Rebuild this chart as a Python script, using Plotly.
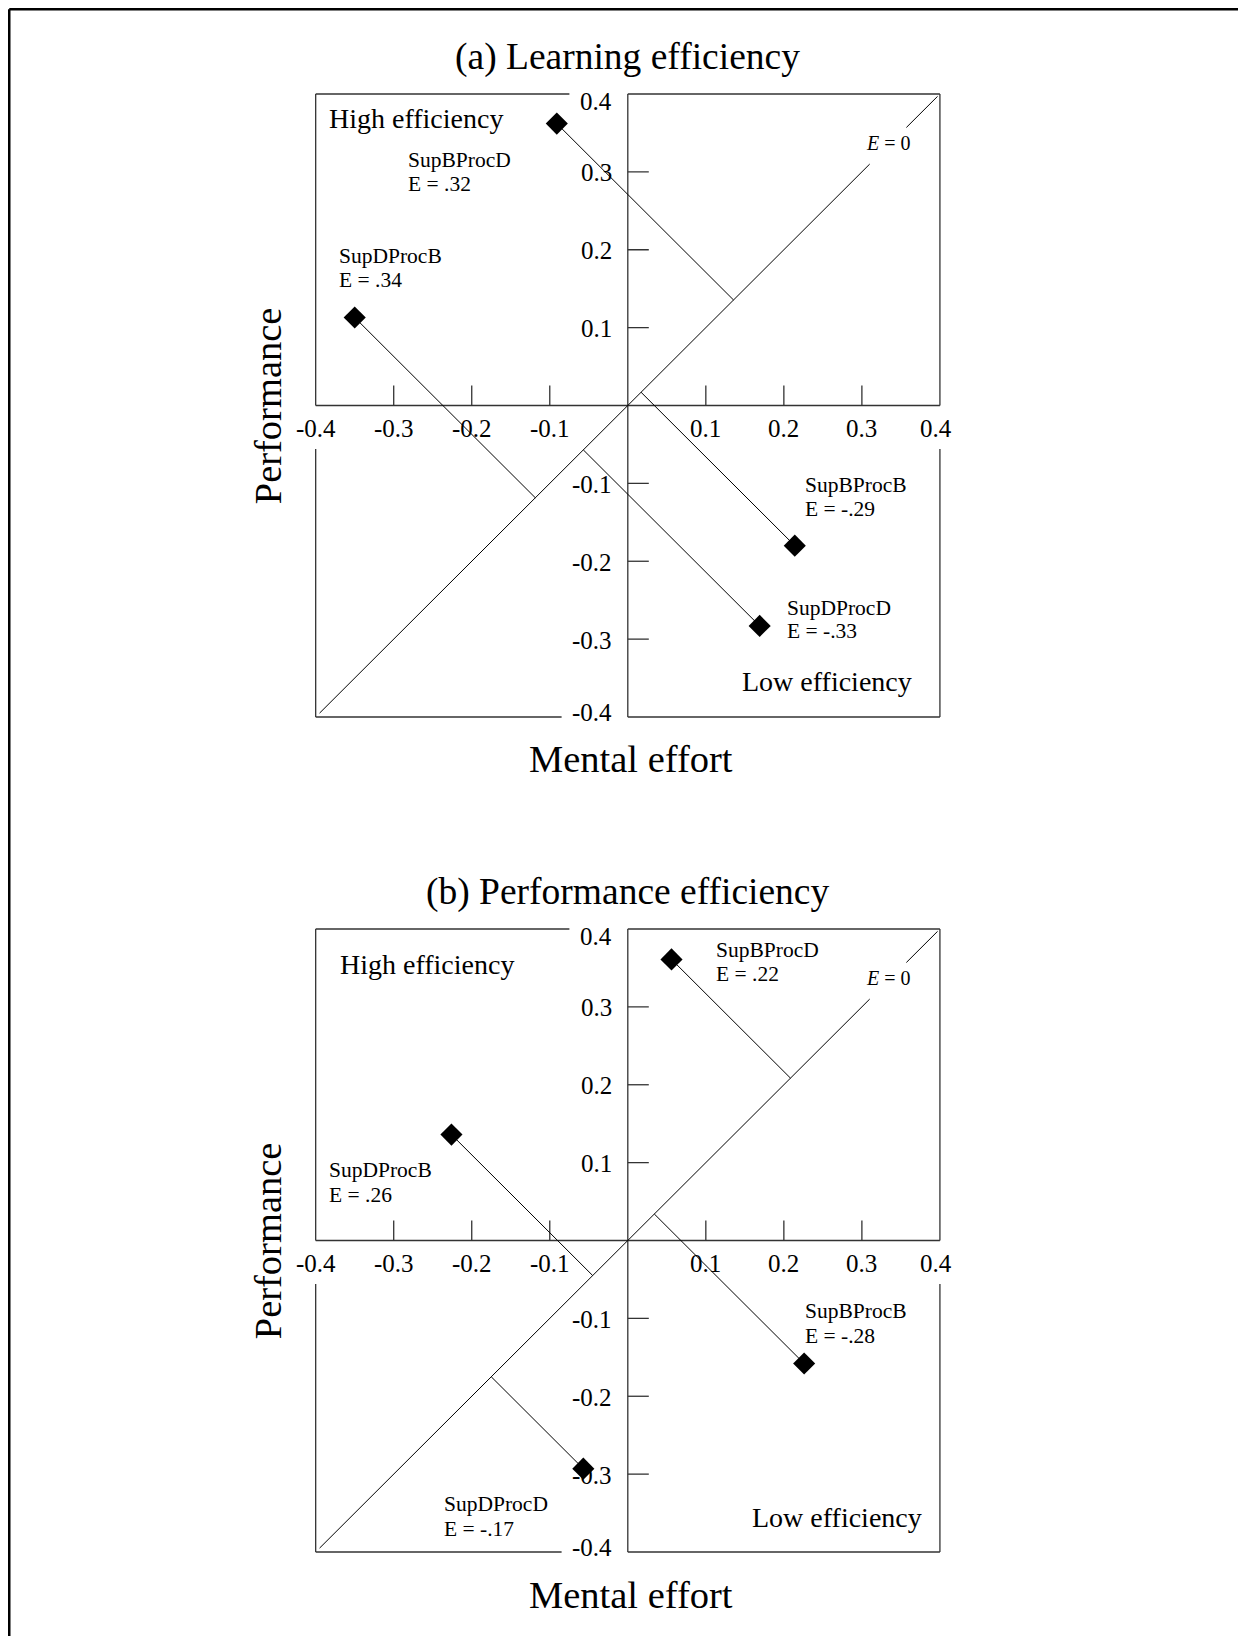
import plotly.graph_objects as go

# ---------------- data ----------------
conditions = ["SupBProcD", "SupDProcB", "SupBProcB", "SupDProcD"]

# (a) Learning efficiency
learn_effort = [-0.091, -0.350, 0.214, 0.169]
learn_perf = [0.362, 0.113, -0.180, -0.283]
learn_E = ["E = .32", "E = .34", "E = -.29", "E = -.33"]

# (b) Performance efficiency
perf_effort = [0.056, -0.226, 0.226, -0.057]
perf_perf = [0.361, 0.136, -0.158, -0.293]
perf_E = ["E = .22", "E = .26", "E = -.28", "E = -.17"]

x_tick_vals = [-0.4, -0.3, -0.2, -0.1, 0.1, 0.2, 0.3, 0.4]
x_tick_text = ["-0.4", "-0.3", "-0.2", "-0.1", "0.1", "0.2", "0.3", "0.4"]
y_tick_vals = [0.4, 0.3, 0.2, 0.1, -0.1, -0.2, -0.3, -0.4]
y_tick_text = ["0.4", "0.3", "0.2", "0.1", "-0.1", "-0.2", "-0.3", "-0.4"]
minor_ticks = [-0.3, -0.2, -0.1, 0.1, 0.2, 0.3]

titles = ["(a) Learning efficiency", "(b) Performance efficiency"]
x_title = "Mental effort"
y_title = "Performance"

# ---------------- layout geometry ----------------
W, H = 1246, 1636
PAGE = 8                                # body margin of the html page
X0, SX, SY = 627.8, 780.3, 778.75       # page pixel of x=0, px per unit
Y0 = [405.5, 1240.5]                    # page pixel of y=0 for each panel
R = 0.5                                 # axis half range
LIM = 0.4

FONT = "Liberation Serif"
LINE = "#333333"


def dxp(px):
    return (px - X0) / SX


def dyp(py, p):
    return (Y0[p] - py) / SY


# label placement (left x, y of name line, y of E line) per panel
label_pos = [
    [(-0.284, 0.315, 0.284), (-0.373, 0.192, 0.161),
     (0.224, -0.102, -0.133), (0.202, -0.260, -0.290)],
    [(0.110, 0.373, 0.342), (-0.385, 0.090, 0.059),
     (0.224, -0.091, -0.122), (-0.238, -0.339, -0.370)],
]
high_pos = [(-0.385, 0.368), (-0.372, 0.354)]
low_pos = [(0.144, -0.355), (0.157, -0.356)]
e0_pos = (0.3025, 0.337)
diag_segments = [(-0.395, 0.31), (0.357, 0.397)]
title_py = [57, 892]
xtitle_py = [759, 1595]

fig = go.Figure()
shapes = []
annotations = []

xdom = [(X0 - PAGE - R * SX) / W, (X0 - PAGE + R * SX) / W]

panels = [
    (learn_effort, learn_perf, learn_E),
    (perf_effort, perf_perf, perf_E),
]

for p, (xs, ys, elabels) in enumerate(panels):
    xa = "x" if p == 0 else "x2"
    ya = "y" if p == 0 else "y2"
    top_px = Y0[p] - PAGE - R * SY
    bot_px = Y0[p] - PAGE + R * SY
    ydom = [1 - bot_px / H, 1 - top_px / H]
    axname = "" if p == 0 else "2"
    fig.update_layout(**{
        "xaxis" + axname: dict(domain=xdom, range=[-R, R], visible=False,
                               anchor=ya, fixedrange=True),
        "yaxis" + axname: dict(domain=ydom, range=[-R, R], visible=False,
                               anchor=xa, fixedrange=True),
    })

    def seg(x1, y1, x2, y2, color=LINE, width=1.3):
        shapes.append(dict(type="line", xref=xa, yref=ya, x0=x1, y0=y1,
                           x1=x2, y1=y2, layer="below",
                           line=dict(color=color, width=width)))

    # frame with gaps behind the end tick labels
    gx = dxp(569.4)
    gy = -(449 - 405.5) / SY
    seg(-LIM, LIM, gx, LIM)
    seg(0, LIM, LIM, LIM)
    seg(-LIM, -LIM, gx - 0.01, -LIM)
    seg(0, -LIM, LIM, -LIM)
    seg(-LIM, LIM, -LIM, 0)
    seg(-LIM, gy, -LIM, -LIM)
    seg(LIM, LIM, LIM, 0)
    seg(LIM, gy, LIM, -LIM)
    # central axes
    seg(-LIM, 0, LIM, 0)
    seg(0, -LIM, 0, LIM)
    tl_x = 20 / SY
    tl_y = 21 / SX
    for t in minor_ticks:
        seg(t, 0, t, tl_x)
        seg(0, t, tl_y, t)

    # E = 0 diagonal with a gap for its label
    dx, dy = [], []
    for a, b in diag_segments:
        dx += [a, b, None]
        dy += [a, b, None]
    fig.add_trace(go.Scatter(x=dx, y=dy, mode="lines", xaxis=xa, yaxis=ya,
                             line=dict(color="black", width=1),
                             hoverinfo="skip", showlegend=False))

    # projection lines to the diagonal
    px_, py_ = [], []
    for xv, yv in zip(xs, ys):
        foot = (xv + yv) / 2
        px_ += [xv, foot, None]
        py_ += [yv, foot, None]
    fig.add_trace(go.Scatter(x=px_, y=py_, mode="lines", xaxis=xa, yaxis=ya,
                             line=dict(color="black", width=1),
                             hoverinfo="skip", showlegend=False))

    # markers
    fig.add_trace(go.Scatter(x=xs, y=ys, mode="markers", xaxis=xa, yaxis=ya,
                             marker=dict(symbol="diamond", size=17,
                                         color="black"),
                             text=conditions, showlegend=False))

    def ann(text, x, y, size, xanchor="left", yanchor="middle", **kw):
        annotations.append(dict(text=text, x=x, y=y, xref=xa, yref=ya,
                                showarrow=False, xanchor=xanchor,
                                yanchor=yanchor,
                                font=dict(family=FONT, size=size,
                                          color="black"), **kw))

    # tick labels
    ylab_x = dxp(613.5)
    for v, t in zip(y_tick_vals, y_tick_text):
        shift = -7 if v == LIM else (5 if v == -LIM else -1)
        ann(t, ylab_x, v, 25, xanchor="right", yshift=shift)
    xlab_y = -(428 - 405.5) / SY
    for v, t in zip(x_tick_vals, x_tick_text):
        shift = -4 if v == LIM else 0
        ann(t, v, xlab_y, 25, xanchor="center", xshift=shift)

    # condition labels
    for name, el, (lx, ly1, ly2) in zip(conditions, elabels, label_pos[p]):
        ann(name, lx, ly1, 21.5)
        ann(el, lx, ly2, 21.5)

    ann("High efficiency", high_pos[p][0], high_pos[p][1], 28)
    ann("Low efficiency", low_pos[p][0], low_pos[p][1], 28)
    ann("<i>E</i> = 0", e0_pos[0], e0_pos[1], 20)

    # titles
    ann(titles[p], 0, dyp(title_py[p], p), 37.5, xanchor="center")
    ann(x_title, 0.004, dyp(xtitle_py[p], p), 38.5, xanchor="center")
    ann(y_title, dxp(268), -0.001, 38.5, xanchor="center", textangle=-90)

# outer frame (left, top, right) in figure pixels
for x0, y0, x1, y1 in [(1.25, 1.25, 1.25, H), (1.25, 1.25, 1236, 1.25),
                       (1236, 1.25, 1236, H)]:
    shapes.append(dict(type="line", xref="paper", yref="paper",
                       x0=x0 / W, x1=x1 / W, y0=1 - y0 / H, y1=1 - y1 / H,
                       line=dict(color="black", width=2.5)))

fig.update_layout(width=W, height=H, autosize=False,
                  margin=dict(l=0, r=0, t=0, b=0),
                  paper_bgcolor="white", plot_bgcolor="white",
                  shapes=shapes, annotations=annotations,
                  showlegend=False, font=dict(family=FONT))

fig.write_html("out.html")
